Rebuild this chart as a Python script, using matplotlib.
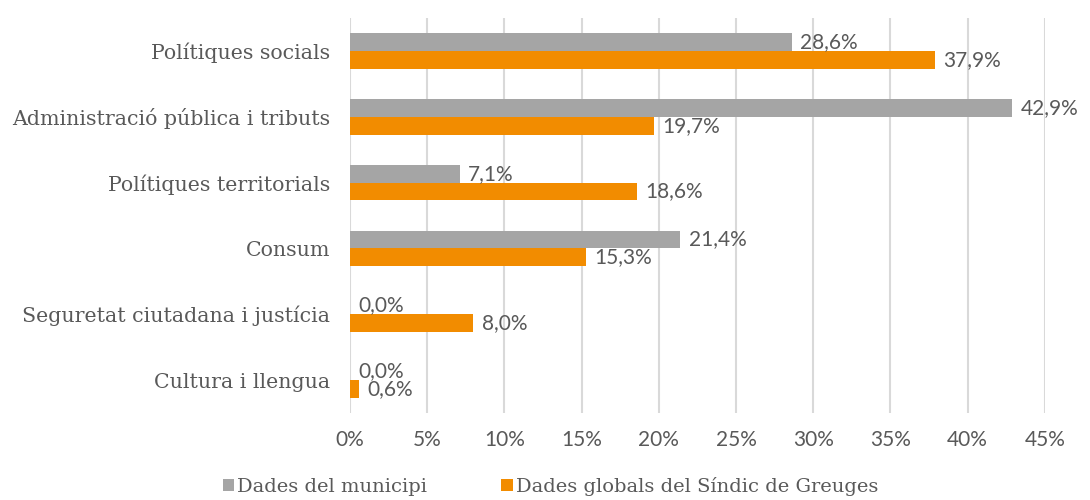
import numpy as np
import matplotlib.pyplot as plt

# dades
categories = ["Polítiques socials", "Administració pública i tributs",
              "Polítiques territorials", "Consum",
              "Seguretat ciutadana i justícia", "Cultura i llengua"]
municipi = [28.6, 42.9, 7.1, 21.4, 0.0, 0.0]
sindic = [37.9, 19.7, 18.6, 15.3, 8.0, 0.6]
ticks = [0, 5, 10, 15, 20, 25, 30, 35, 40, 45]

gris = "#A5A5A5"
taronja = "#F28C00"
txt = "#595959"
serif = "DejaVu Serif"
sans = "Lato"

fig = plt.figure(figsize=(10.9, 5.0), dpi=100)
ax = fig.add_axes([0.321, 0.174, 0.6376, 0.79])

y = np.arange(len(categories))
h = 0.27
b1 = ax.barh(y - h / 2, municipi, height=h, color=gris, label="Dades del municipi")
b2 = ax.barh(y + h / 2, sindic, height=h, color=taronja,
             label="Dades globals del Síndic de Greuges")

for bars, vals in ((b1, municipi), (b2, sindic)):
    for b, v in zip(bars, vals):
        ax.annotate(("%.1f%%" % v).replace(".", ","),
                    (b.get_width(), b.get_y() + b.get_height() / 2),
                    xytext=(6, 0), textcoords="offset points",
                    va="center", ha="left", fontsize=15, color=txt, family=sans)

ax.set_xlim(0, 45)
ax.set_ylim(len(categories) - 0.5, -0.5)
ax.set_xticks(ticks)
ax.set_xticklabels(["%d%%" % t for t in ticks], fontsize=15, color=txt, family=sans)
ax.set_yticks(y)
ax.set_yticklabels(categories, fontsize=14.8, color=txt, family=serif)
ax.tick_params(length=0, pad=14)
ax.tick_params(axis="x", pad=12)
ax.grid(axis="x", color="#D9D9D9", lw=1.5)
ax.set_axisbelow(True)
for s in ax.spines.values():
    s.set_visible(False)

leg = fig.legend(handles=[b1, b2], loc="center", bbox_to_anchor=(0.505, 0.027),
                 ncol=2, frameon=False, handlelength=0.6, handleheight=0.6,
                 handletextpad=0.15, columnspacing=3.8,
                 prop={"family": serif, "size": 14})
for t in leg.get_texts():
    t.set_color(txt)

fig.savefig("out.png", dpi=100)
